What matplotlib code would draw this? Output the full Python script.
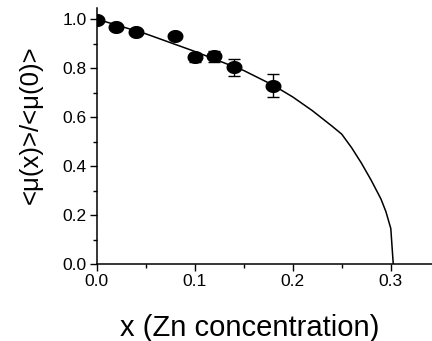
import numpy as np
import matplotlib
matplotlib.use("Agg")
import matplotlib.pyplot as plt
from matplotlib.ticker import MultipleLocator
from matplotlib.path import Path

plt.rcParams['font.family'] = ['Liberation Sans', 'DejaVu Sans']

# measured points
x_data = [0.0, 0.02, 0.04, 0.08, 0.10, 0.12, 0.14, 0.18]
y_data = [0.997, 0.967, 0.945, 0.930, 0.843, 0.848, 0.803, 0.728]
y_err = [0.008, 0.008, 0.008, 0.008, 0.018, 0.022, 0.035, 0.047]

# model curve
x_curve = [0.0, 0.05, 0.10, 0.15, 0.18, 0.20, 0.22, 0.24, 0.25,
           0.26, 0.27, 0.28, 0.29, 0.295, 0.30, 0.3025]
y_curve = [1.0, 0.940, 0.868, 0.790, 0.730, 0.682, 0.626, 0.563, 0.530,
           0.475, 0.412, 0.342, 0.265, 0.214, 0.145, 0.0]

# slightly wide circle, like the stretched original
t = np.linspace(0, 2 * np.pi, 60)
oval = Path(np.column_stack([np.cos(t), 0.8 * np.sin(t)]), closed=True)

fig = plt.figure(figsize=(4.32, 3.41), dpi=100)
ax = fig.add_axes([96.5 / 432, 1 - 264 / 341, 1 - 96.5 / 432, 256 / 341])

ax.plot(x_curve, y_curve, color='black', lw=1.1)
ax.errorbar(x_data, y_data, yerr=y_err, fmt='none', ecolor='black',
            capsize=4.5, elinewidth=1.0, capthick=1.0)
ax.plot(x_data, y_data, linestyle='none', marker=oval, ms=10.5, color='black')

ax.set_xlim(0, 0.342)
ax.set_ylim(0, 1.045)
ax.xaxis.set_minor_locator(MultipleLocator(0.05))
ax.yaxis.set_minor_locator(MultipleLocator(0.1))
ax.set_xticks([0.0, 0.1, 0.2, 0.3])
ax.set_xticklabels(['0.0', '0.1', '0.2', '0.3'])
ax.set_yticks([0.0, 0.2, 0.4, 0.6, 0.8, 1.0])
ax.set_yticklabels(['0.0', '0.2', '0.4', '0.6', '0.8', '1.0'])

for s in ['top', 'right']:
    ax.spines[s].set_visible(False)
for s in ['left', 'bottom']:
    ax.spines[s].set_linewidth(1.1)
ax.tick_params(which='major', direction='out', length=5, width=1.0, labelsize=12.5, pad=2)
ax.tick_params(which='minor', direction='out', length=3, width=1.0)

ax.set_xlabel('x (Zn concentration)', fontsize=21)
ax.set_ylabel('<\u03bc(x)>/<\u03bc(0)>', fontsize=18.5)
ax.xaxis.set_label_coords(0.4575, -0.195)
ax.yaxis.set_label_coords(-0.16, 0.543)

fig.savefig('out.png', dpi=100)
